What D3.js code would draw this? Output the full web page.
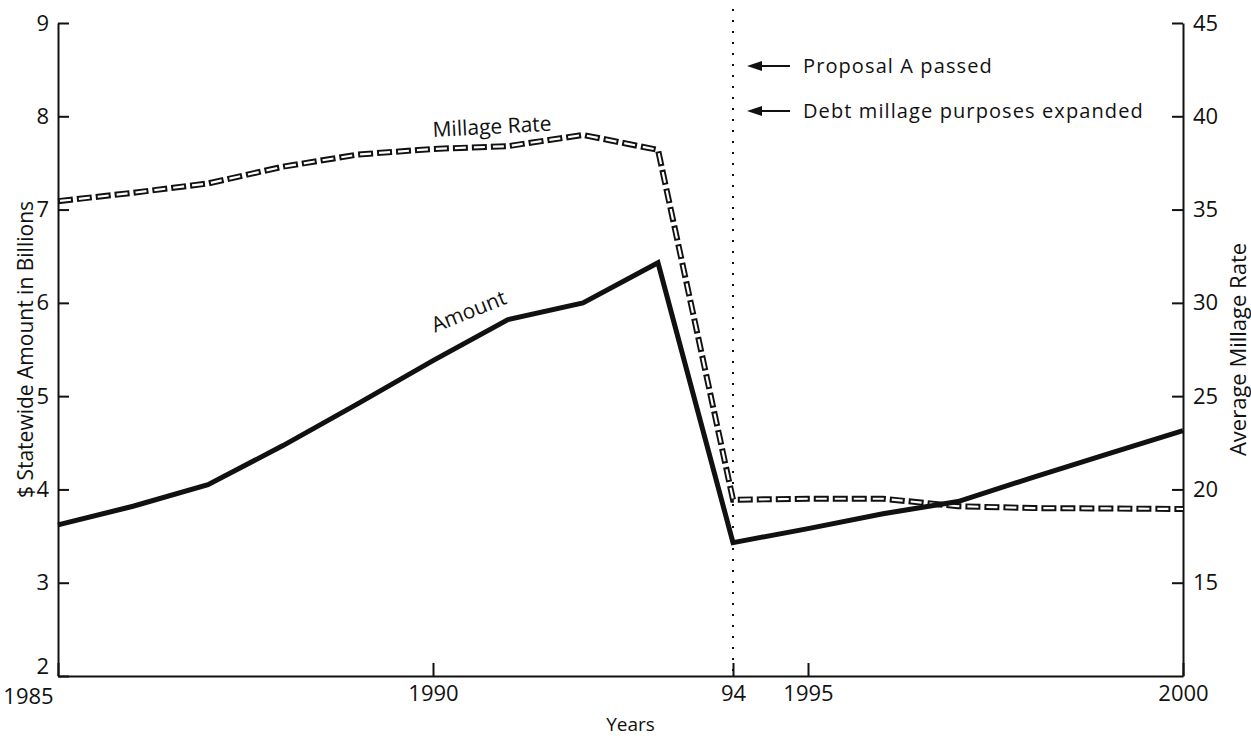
<!DOCTYPE html>
<html>
<head>
<meta charset="utf-8">
<script src="https://cdn.jsdelivr.net/npm/d3@7"></script>
<style>
  body { margin: 0; background: #fff; }
  svg text { font-family: "Open Sans", sans-serif; fill: #111; }
</style>
</head>
<body>
<script>
// chart values
var years = [1985, 1986, 1987, 1988, 1989, 1990, 1991, 1992, 1993, 1994, 1995, 1996, 1997, 1998, 1999, 2000];
// $ statewide amount in billions (left axis)
var amount = [3.62, 3.82, 4.05, 4.47, 4.92, 5.38, 5.82, 6.0, 6.43, 3.43, 3.58, 3.74, 3.87, 4.13, 4.38, 4.63];
// average millage rate (right axis)
var millage = [35.45, 35.9, 36.4, 37.3, 37.95, 38.25, 38.4, 39.0, 38.2, 19.45, 19.5, 19.5, 19.1, 19.0, 18.98, 18.95];

var leftTicks = [2, 3, 4, 5, 6, 7, 8, 9];
var rightTicks = [15, 20, 25, 30, 35, 40, 45];
var xTicks = [1985, 1990, 1994, 1995, 2000];
var xTickLabels = ["1985", "1990", "94", "1995", "2000"];
var eventYear = 1994;
var notes = ["Proposal A passed", "Debt millage purposes expanded"];

var width = 1251, height = 738;
var border = { top: 23, bottom: 62, left: 58, right: 68 };

var svg = d3.select("body").append("svg")
  .attr("width", width)
  .attr("height", height);

var x = d3.scaleLinear()
  .domain([1985, 2000])
  .range([border.left, width - border.right]);

var yLeft = d3.scaleLinear()
  .domain([2, 9])
  .range([height - border.bottom, border.top]);

var yRight = d3.scaleLinear()
  .domain([10, 45])
  .range([height - border.bottom, border.top]);

// axes, ticks point inwards
var xAxis = d3.axisBottom(x)
  .tickValues(xTicks)
  .tickFormat(function (d, i) { return xTickLabels[i]; })
  .tickSizeInner(-13).tickSizeOuter(0).tickPadding(9);

var gx = svg.append("g")
  .attr("transform", "translate(0," + (height - border.bottom) + ")")
  .call(xAxis);
gx.selectAll("text").filter(function (d) { return d === 1985; })
  .attr("dx", "-30").attr("y", 12);

var gl = svg.append("g")
  .attr("transform", "translate(" + border.left + ",0)")
  .call(d3.axisLeft(yLeft).tickValues(leftTicks).tickFormat(d3.format("d"))
    .tickSizeInner(-11).tickSizeOuter(0).tickPadding(9));
gl.selectAll("text").filter(function (d) { return d === 2; }).attr("dy", "-0.12em");

var gr = svg.append("g")
  .attr("transform", "translate(" + (width - border.right) + ",0)")
  .call(d3.axisRight(yRight).tickValues(rightTicks).tickFormat(d3.format("d"))
    .tickSizeInner(-11).tickSizeOuter(0).tickPadding(10));

[gx, gl, gr].forEach(function (g) {
  g.selectAll("path, line").attr("stroke", "#111").attr("stroke-width", 2);
  g.selectAll("text").style("font-size", "22px").style("font-family", "'Open Sans', sans-serif").attr("fill", "#111");
});

// axis titles
svg.append("text")
  .attr("x", (x.range()[0] + x.range()[1]) / 2 + 10)
  .attr("y", height - 7)
  .style("text-anchor", "middle")
  .style("font-size", "19px")
  .text("Years");

svg.append("text")
  .attr("transform", "translate(33," + (yLeft.range()[0] + yLeft.range()[1]) / 2 + ") rotate(-90)")
  .style("text-anchor", "middle")
  .style("font-size", "21px")
  .text("$ Statewide Amount in Billions");

svg.append("text")
  .attr("transform", "translate(1246," + (yRight.range()[0] + yRight.range()[1]) / 2 + ") rotate(-90)")
  .style("text-anchor", "middle")
  .style("font-size", "22px")
  .text("Average Millage Rate");

// dotted line at 1994
svg.append("line")
  .attr("x1", x(eventYear)).attr("x2", x(eventYear))
  .attr("y1", yLeft.range()[1] - 14).attr("y2", yLeft.range()[0])
  .attr("stroke", "#111")
  .attr("stroke-width", 2)
  .attr("stroke-dasharray", "2,9");

// annotations with arrows
notes.forEach(function (t, i) {
  var ay = 66 + i * 45;
  var ax = x(eventYear) + 14;
  svg.append("line")
    .attr("x1", ax + 10).attr("x2", ax + 43)
    .attr("y1", ay).attr("y2", ay)
    .attr("stroke", "#111").attr("stroke-width", 2);
  svg.append("path")
    .attr("d", "M" + ax + "," + ay + "L" + (ax + 15) + "," + (ay - 5) + "L" + (ax + 15) + "," + (ay + 5) + "Z")
    .attr("fill", "#111");
  svg.append("text")
    .attr("x", ax + 56)
    .attr("y", ay + 7)
    .style("font-size", "20px")
    .style("letter-spacing", "1.1px")
    .text(t);
});

var data = years.map(function (d, i) { return { year: d, amount: amount[i], millage: millage[i] }; });

// millage rate: outlined dashes
var millLine = d3.line()
  .x(function (d) { return x(d.year); })
  .y(function (d) { return yRight(d.millage); });

svg.append("path")
  .attr("d", millLine(data))
  .attr("fill", "none")
  .attr("stroke", "#111")
  .attr("stroke-width", 6)
  .attr("stroke-dasharray", "15,4");

svg.append("path")
  .attr("d", millLine(data))
  .attr("fill", "none")
  .attr("stroke", "#fff")
  .attr("stroke-width", 2.2)
  .attr("stroke-dasharray", "11,8")
  .attr("stroke-dashoffset", -2);

// amount: thick solid line
var amtLine = d3.line()
  .x(function (d) { return x(d.year); })
  .y(function (d) { return yLeft(d.amount); });

svg.append("path")
  .attr("d", amtLine(data))
  .attr("fill", "none")
  .attr("stroke", "#111")
  .attr("stroke-width", 5)
  .attr("stroke-linejoin", "miter");

// series labels
svg.append("text")
  .attr("transform", "translate(" + x(1990) + "," + (yRight(millage[5]) - 12) + ") rotate(-3)")
  .style("font-size", "21px")
  .text("Millage Rate");

svg.append("text")
  .attr("transform", "translate(" + (x(1990) + 2) + "," + (yLeft(amount[5]) - 28) + ") rotate(-22)")
  .style("font-size", "21px")
  .text("Amount");
</script>
</body>
</html>
